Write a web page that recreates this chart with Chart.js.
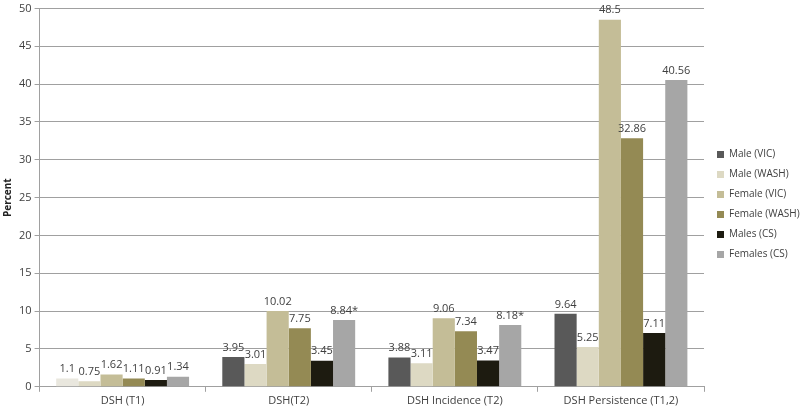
<!DOCTYPE html>
<html>
<head>
<meta charset="utf-8">
<script src="https://cdn.jsdelivr.net/npm/chart.js@4.4.1/dist/chart.umd.min.js"></script>
<style>
  html, body { margin: 0; padding: 0; background: #fff; }
  #wrap { width: 800px; height: 411px; }
</style>
</head>
<body>
<div id="wrap"><canvas id="dshChart" width="800" height="411"></canvas></div>
<script>
const categories = ['DSH (T1)', 'DSH(T2)', 'DSH Incidence (T2)', 'DSH Persistence (T1,2)'];
const seriesNames = ['Male (VIC)', 'Male (WASH)', 'Female (VIC)', 'Female (WASH)', 'Males (CS)', 'Females (CS)'];
const maleVic = [1.1, 3.95, 3.88, 9.64];
const maleWash = [0.75, 3.01, 3.11, 5.25];
const femaleVic = [1.62, 10.02, 9.06, 48.5];
const femaleWash = [1.11, 7.75, 7.34, 32.86];
const malesCs = [0.91, 3.45, 3.47, 7.11];
const femalesCs = [1.34, 8.84, 8.18, 40.56];
const femalesCsNote = ['', '*', '*', '']; // significance marks
const yTicks = [0, 5, 10, 15, 20, 25, 30, 35, 40, 45, 50];

const colors = ['#595959', '#ddd9c3', '#c4bd97', '#948a54', '#1d1b10', '#a6a6a6'];
// first bar of Male (VIC) is drawn pale in the original
const maleVicColors = ['#e9e7de', colors[0], colors[0], colors[0]];

const allValues = [maleVic, maleWash, femaleVic, femaleWash, malesCs, femalesCs];

const datasets = allValues.map((vals, i) => ({
  label: seriesNames[i],
  data: vals,
  backgroundColor: i === 0 ? maleVicColors : colors[i],
  borderWidth: 0,
  categoryPercentage: 0.8,
  barPercentage: 1.0,
}));

// simple value labels above each bar
const valueLabels = {
  id: 'valueLabels',
  afterLayout(chart) {
    chart.legend.left += 3; // nudge legend right like the original
  },
  afterDatasetsDraw(chart) {
    const ctx = chart.ctx;
    ctx.save();
    ctx.font = '11px "Open Sans", sans-serif';
    ctx.fillStyle = '#404040';
    ctx.textAlign = 'center';
    ctx.textBaseline = 'bottom';
    chart.data.datasets.forEach((ds, di) => {
      chart.getDatasetMeta(di).data.forEach((bar, j) => {
        let txt = String(ds.data[j]);
        if (di === 5) txt += femalesCsNote[j];
        ctx.fillText(txt, bar.x, bar.y - 4);
      });
    });
    ctx.restore();
  }
};

const ctx = document.getElementById('dshChart').getContext('2d');
const chart = new Chart(ctx, {
  type: 'bar',
  data: { labels: categories, datasets },
  plugins: [valueLabels],
  options: {
    responsive: false,
    animation: false,
    layout: { padding: { top: 0, right: 0, bottom: 2, left: 0 } },
    plugins: {
      tooltip: { enabled: false },
      legend: {
        position: 'right',
        labels: {
          boxWidth: 7,
          boxHeight: 7,
          padding: 10,
          color: '#404040',
          font: { family: '"Open Sans", sans-serif', size: 10 },
          generateLabels(chart) {
            return seriesNames.map((name, i) => ({
              text: name,
              fillStyle: colors[i],
              strokeStyle: colors[i],
              lineWidth: 0,
              fontColor: '#404040',
              datasetIndex: i,
            }));
          },
        },
      },
    },
    scales: {
      x: {
        grid: { offset: true, drawOnChartArea: false, tickLength: 5, color: '#a0a0a0' },
        border: { color: '#a0a0a0' },
        ticks: { color: '#404040', font: { family: '"Open Sans", sans-serif', size: 11 }, padding: 2 },
      },
      y: {
        min: 0,
        max: 50,
        afterBuildTicks(axis) { axis.ticks = yTicks.map(v => ({ value: v })); },
        grid: { color: '#a0a0a0', tickLength: 5 },
        border: { color: '#a0a0a0' },
        ticks: { color: '#404040', font: { family: '"Open Sans", sans-serif', size: 11, lineHeight: 1 }, padding: 3 },
        title: {
          display: true,
          text: 'Percent',
          color: '#222',
          font: { family: '"Open Sans", sans-serif', size: 10, weight: 'bold' },
          padding: 2,
        },
      },
    },
  },
});

// keep the legend column narrow like the original
const legendFit = chart.legend.fit;
chart.legend.fit = function () {
  legendFit.call(this);
  this.width = 96;
};
chart.update();
</script>
</body>
</html>
